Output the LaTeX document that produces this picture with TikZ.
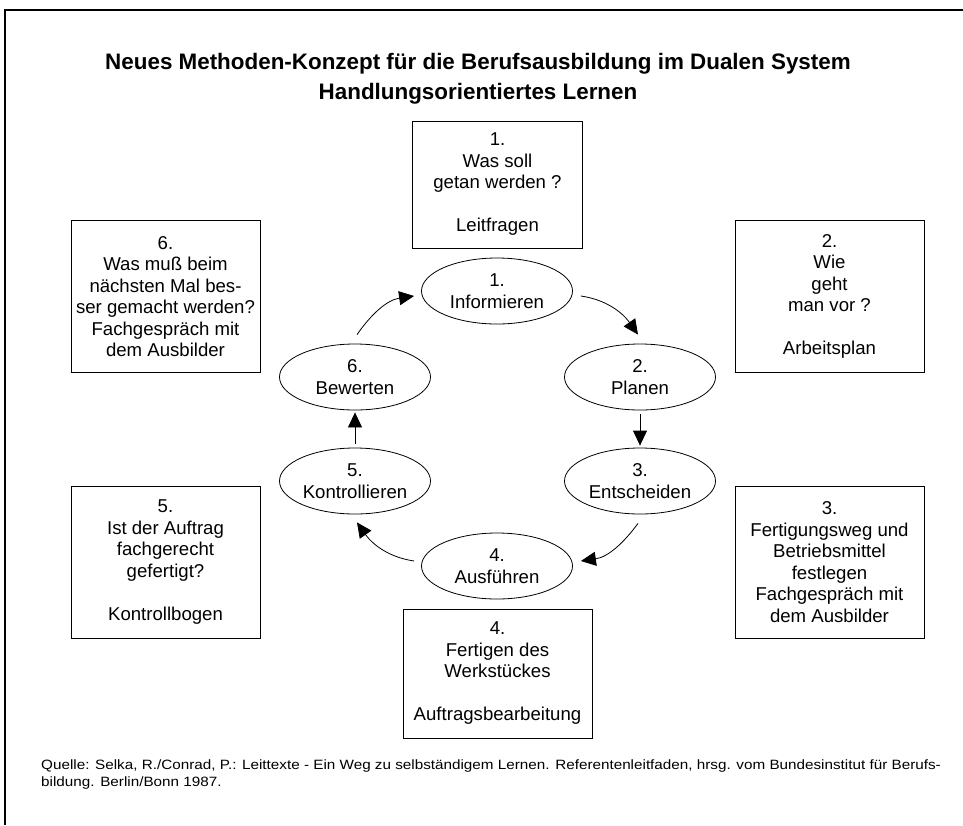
\documentclass[tikz,border=0pt]{standalone}
\usepackage{fontspec}
\setmainfont{Liberation Sans}
\newfontfamily\srcfnt[FakeStretch=1.13]{Liberation Sans}
\usetikzlibrary{arrows.meta,shapes.geometric}
\newcommand{\bodyfnt}{\fontsize{18.6pt}{21.5pt}\selectfont}
\begin{document}
\begin{tikzpicture}[x=1pt,y=-1pt,
  textbox/.style={draw=black,line width=0.8pt,align=center,inner sep=0pt,font=\bodyfnt},
  ell/.style={draw=black,line width=0.8pt,ellipse,align=center,inner sep=0pt,
    minimum width=151pt,minimum height=66pt,font=\bodyfnt},
  arr/.style={line width=0.8pt,-{Triangle[length=15pt,width=14pt]}}]
\useasboundingbox (0,0) rectangle (963,825);
% frame
\draw[line width=2pt] (5,825) -- (5,10) -- (963,10);
% title
\node[font=\bfseries\fontsize{22.4pt}{29.5pt}\selectfont,align=center,inner sep=0pt] (title) at (478,79)
  {Neues Methoden-Konzept für die Berufsausbildung im Dualen System\\Handlungsorientiertes Lernen};
% boxes
\node[textbox,minimum width=170pt,minimum height=127pt] (b1) at (497.5,184.5)
  {1.\\Was soll\\getan werden ?\\[21.5pt]Leitfragen};
\node[textbox,minimum width=189pt,minimum height=152pt] (b2) at (829.5,296.5)
  {2.\\Wie\\geht\\man vor ?\\[21.5pt]Arbeitsplan};
\node[textbox,minimum width=189pt,minimum height=152pt] (b3) at (829.5,562)
  {3.\\Fertigungsweg und\\Betriebsmittel\\festlegen\\Fachgespräch mit\\dem Ausbilder};
\node[textbox,minimum width=189pt,minimum height=129pt] (b4) at (497.5,673.5)
  {4.\\Fertigen des\\Werkstückes\\[21.5pt]Auftragsbearbeitung};
\node[textbox,minimum width=189pt,minimum height=152pt] (b5) at (165.5,562)
  {5.\\Ist der Auftrag\\fachgerecht\\gefertigt?\\[21.5pt]Kontrollbogen};
\node[textbox,minimum width=189pt,minimum height=152pt] (b6) at (165.5,296.5)
  {6.\\Was muß beim\\nächsten Mal bes-\\ser gemacht werden?\\Fachgespräch mit\\dem Ausbilder};
% ellipses
\node[ell] (e1) at (497,291) {1.\\Informieren};
\node[ell] (e2) at (640,377) {2.\\Planen};
\node[ell] (e3) at (640,481) {3.\\Entscheiden};
\node[ell] (e4) at (497,566) {4.\\Ausführen};
\node[ell] (e5) at (355,481) {5.\\Kontrollieren};
\node[ell] (e6) at (355,377) {6.\\Bewerten};
% connectors
\draw[arr] ([shift={(8,5)}]e1.east) .. controls ([shift={(35.5,9)}]e1.east) and ([shift={(-16,-29)}]e2.north) .. ([shift={(-2,-9)}]e2.north);
\draw[arr] ([shift={(0,4)}]e2.south) -- ([shift={(0,-2)}]e3.north);
\draw[arr] ([shift={(-2,9)}]e3.south) .. controls ([shift={(-16,28)}]e3.south) and ([shift={(35.5,-9)}]e4.east) .. ([shift={(8,-5)}]e4.east);
\draw[arr] ([shift={(-7,-5)}]e4.west) .. controls ([shift={(-34.5,-9)}]e4.west) and ([shift={(16,28)}]e5.south) .. ([shift={(2,8)}]e5.south);
\draw[arr] ([shift={(0,-4)}]e5.north) -- ([shift={(0,2)}]e6.south);
\draw[arr] ([shift={(2,-9)}]e6.north) .. controls ([shift={(16,-29)}]e6.north) and ([shift={(-34.5,9)}]e1.west) .. ([shift={(-7,5)}]e1.west);
% source
\node[anchor=north west,align=left,inner sep=0pt,font=\srcfnt\fontsize{13.5pt}{17pt}\selectfont] (src) at (41,760)
  {Quelle: Selka, R./Conrad, P.: Leittexte - Ein Weg zu selbständigem Lernen. Referentenleitfaden, hrsg. vom Bundesinstitut für Berufs-\\bildung. Berlin/Bonn 1987.};
\end{tikzpicture}
\end{document}
